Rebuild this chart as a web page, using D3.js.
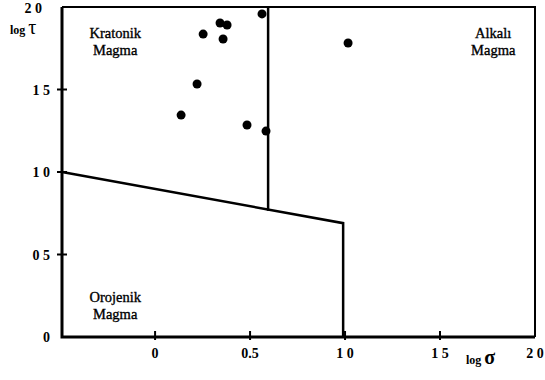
<!DOCTYPE html>
<html>
<head>
<meta charset="utf-8">
<script src="https://cdn.jsdelivr.net/npm/d3@7"></script>
<style>
  body { margin: 0; background: #fff; }
  text { font-family: "Liberation Serif", "DejaVu Serif", serif; fill: #000; }
</style>
</head>
<body>
<div id="chart"></div>
<script>
// sample points (log sigma, log tau)
const logSigma = [0.563, 0.342, 0.379, 0.253, 0.358, 0.221, 0.137, 0.484, 0.584, 1.016];
const logTau   = [1.958, 1.903, 1.891, 1.836, 1.806, 1.533, 1.345, 1.285, 1.248, 1.782];

// field boundaries
const lowerBoundary = [[-0.49, 1.0], [0.99, 0.69], [0.99, 0]];
const upperBoundary = [[0.595, 2.0], [0.595, 0.765]];

// tick labels
const xTicks = [0, 0.5, 1.0, 1.5, 2.0];
const xTickLabels = ["0", "0.5", "1 0", "1 5", "2 0"];
const yTicks = [0, 0.5, 1.0, 1.5, 2.0];
const yTickLabels = ["0", "0 5", "1 0", "1 5", "2 0"];

// field names
const fieldNames = [
  { lines: ["Kratonik", "Magma"], at: [-0.21, 1.81] },
  { lines: ["Alkalı", "Magma"], at: [1.78, 1.81] },
  { lines: ["Orojenik", "Magma"], at: [-0.21, 0.21] }
];

const width = 545, height = 380;
const x = d3.scaleLinear().domain([-0.49, 2.0]).range([62, 535]);
const y = d3.scaleLinear().domain([0, 2.0]).range([337, 7]);

const svg = d3.select("#chart").append("svg")
  .attr("width", width)
  .attr("height", height);

// frame: top and right borders
svg.append("path")
  .attr("d", `M${x(-0.49)},${y(2)} H${x(2)} V${y(0)}`)
  .attr("fill", "none")
  .attr("stroke", "#000")
  .attr("stroke-width", 2);

// left and bottom axes (thicker)
svg.append("path")
  .attr("d", `M${x(-0.49)},${y(2)} V${y(0)} H${x(2)}`)
  .attr("fill", "none")
  .attr("stroke", "#000")
  .attr("stroke-width", 3);

// ticks on the y axis
svg.selectAll(".ytick")
  .data(yTicks.slice(1, 4))
  .enter()
  .append("line")
  .attr("x1", x(-0.49) - 5)
  .attr("x2", x(-0.49) + 5)
  .attr("y1", d => y(d))
  .attr("y2", d => y(d))
  .attr("stroke", "#000")
  .attr("stroke-width", 2);

svg.selectAll(".ylab")
  .data(yTicks)
  .enter()
  .append("text")
  .attr("x", (d, i) => i === 4 ? 42 : 50)
  .attr("y", (d, i) => i === 4 ? y(d) + 6 : y(d) + 5)
  .attr("text-anchor", "end")
  .attr("font-size", 14)
  .attr("font-weight", "bold")
  .text((d, i) => yTickLabels[i]);

// ticks on the x axis
svg.selectAll(".xtick")
  .data(xTicks.slice(0, 4))
  .enter()
  .append("line")
  .attr("x1", d => x(d))
  .attr("x2", d => x(d))
  .attr("y1", y(0) - 6)
  .attr("y2", y(0) + 3)
  .attr("stroke", "#000")
  .attr("stroke-width", 2);

svg.selectAll(".xlab")
  .data(xTicks)
  .enter()
  .append("text")
  .attr("x", d => x(d))
  .attr("y", y(0) + 21)
  .attr("text-anchor", "middle")
  .attr("font-size", 14)
  .attr("font-weight", "bold")
  .text((d, i) => xTickLabels[i]);

// axis titles
const yTitle = svg.append("text").attr("x", 10).attr("y", 34).attr("font-size", 12).attr("font-weight", "bold");
yTitle.append("tspan").text("log ");
yTitle.append("tspan").attr("font-size", 20).attr("font-weight", "normal").text("τ");

const xTitle = svg.append("text").attr("x", 466).attr("y", 364).attr("font-size", 12).attr("font-weight", "bold");
xTitle.append("tspan").text("log ");
xTitle.append("tspan").attr("font-size", 20).text("σ");

// boundaries
const line = d3.line().x(d => x(d[0])).y(d => y(d[1]));
[lowerBoundary, upperBoundary].forEach(b => {
  svg.append("path")
    .datum(b)
    .attr("d", line)
    .attr("fill", "none")
    .attr("stroke", "#000")
    .attr("stroke-width", 2.5);
});

// points
svg.selectAll("circle")
  .data(logSigma.map((s, i) => [s, logTau[i]]))
  .enter()
  .append("circle")
  .attr("cx", d => x(d[0]))
  .attr("cy", d => y(d[1]))
  .attr("r", 4.5)
  .attr("fill", "#000");

// field labels
fieldNames.forEach(f => {
  const t = svg.append("text")
    .attr("text-anchor", "middle")
    .attr("font-size", 14.5)
    .attr("stroke", "#000")
    .attr("stroke-width", 0.35);
  f.lines.forEach((l, i) => {
    t.append("tspan")
      .attr("x", x(f.at[0]))
      .attr("y", y(f.at[1]) + i * 17)
      .text(l);
  });
});
</script>
</body>
</html>
